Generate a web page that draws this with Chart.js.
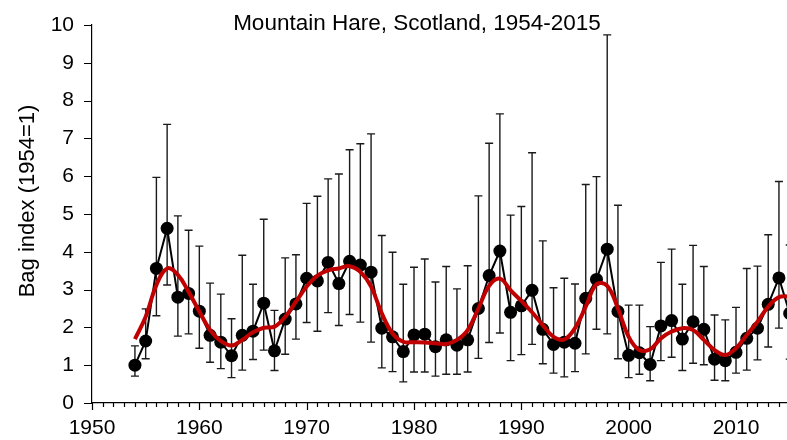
<!DOCTYPE html>
<html>
<head>
<meta charset="utf-8">
<script src="https://cdn.jsdelivr.net/npm/chart.js@4"></script>
<style>
  html, body { margin: 0; padding: 0; background: #fff; }
  #wrap { width: 787px; height: 440px; overflow: hidden; }
</style>
</head>
<body>
<div id="wrap"><canvas id="hareChart" width="787" height="440"></canvas></div>
<script>
// Mountain hare bag index, Scotland (1954 = 1)
const years = [
  1954, 1955, 1956, 1957, 1958, 1959, 1960, 1961, 1962, 1963,
  1964, 1965, 1966, 1967, 1968, 1969, 1970, 1971, 1972, 1973,
  1974, 1975, 1976, 1977, 1978, 1979, 1980, 1981, 1982, 1983,
  1984, 1985, 1986, 1987, 1988, 1989, 1990, 1991, 1992, 1993,
  1994, 1995, 1996, 1997, 1998, 1999, 2000, 2001, 2002, 2003,
  2004, 2005, 2006, 2007, 2008, 2009, 2010, 2011, 2012, 2013,
  2014, 2015
];
const bagIndex = [
  1.00, 1.64, 3.56, 4.62, 2.80, 2.90, 2.43, 1.79, 1.61, 1.25,
  1.79, 1.90, 2.64, 1.38, 2.22, 2.62, 3.30, 3.23, 3.72, 3.16,
  3.75, 3.65, 3.46, 1.98, 1.75, 1.36, 1.80, 1.82, 1.49, 1.67,
  1.53, 1.67, 2.50, 3.37, 4.02, 2.40, 2.57, 2.98, 1.95, 1.55,
  1.61, 1.58, 2.77, 3.27, 4.07, 2.42, 1.26, 1.33, 1.02, 2.04,
  2.18, 1.69, 2.15, 1.95, 1.16, 1.12, 1.34, 1.71, 1.98, 2.61,
  3.31, 2.37
];
const upperCI = [
  1.51, 2.49, 5.97, 7.37, 4.95, 4.57, 4.15, 3.17, 2.88, 2.23,
  3.91, 3.14, 4.86, 2.45, 3.84, 3.92, 5.28, 5.47, 5.93, 6.06,
  6.70, 6.86, 7.12, 4.43, 3.99, 3.14, 3.59, 3.81, 3.20, 3.61,
  3.02, 3.63, 5.48, 6.87, 7.65, 4.97, 5.20, 6.62, 4.29, 3.05,
  3.30, 3.15, 5.78, 5.99, 9.74, 5.23, 2.59, 2.59, 2.02, 3.72,
  4.07, 3.14, 4.17, 3.61, 2.33, 2.20, 2.53, 3.56, 3.62, 4.45,
  5.86, 4.18
];
const lowerCI = [
  0.71, 1.17, 2.31, 3.12, 1.77, 1.83, 1.45, 1.08, 0.91, 0.67,
  0.87, 1.15, 1.40, 0.86, 1.29, 1.69, 2.13, 1.90, 2.39, 2.05,
  2.34, 2.14, 1.61, 0.93, 0.83, 0.56, 0.82, 0.82, 0.71, 0.76,
  0.76, 0.82, 1.18, 1.60, 1.85, 1.12, 1.28, 1.55, 1.04, 0.79,
  0.69, 0.83, 1.30, 1.95, 1.83, 1.17, 0.67, 0.76, 0.59, 1.12,
  1.21, 0.86, 1.05, 1.01, 0.60, 0.59, 0.79, 0.87, 1.14, 1.48,
  1.98, 1.16
];
const smoothed = [
  1.69, 2.28, 3.12, 3.56, 3.39, 2.94, 2.42, 1.93, 1.64, 1.52,
  1.67, 1.87, 1.99, 2.02, 2.28, 2.68, 3.08, 3.37, 3.51, 3.56,
  3.62, 3.47, 3.08, 2.37, 1.84, 1.62, 1.61, 1.60, 1.58, 1.56,
  1.67, 1.93, 2.50, 3.10, 3.29, 2.98, 2.70, 2.40, 2.06, 1.75,
  1.68, 1.98, 2.55, 3.14, 3.10, 2.50, 1.75, 1.40, 1.42, 1.71,
  1.89, 1.98, 1.93, 1.67, 1.40, 1.27, 1.45, 1.80, 2.15, 2.55,
  2.80, 2.82
];
const yTicks = [0, 1, 2, 3, 4, 5, 6, 7, 8, 9, 10];
const xFirstYear = 1950;
const xLastTick = 2014;

const FONT = '"Liberation Sans", Arial, sans-serif';

// error bars drawn behind the points
const errorBars = {
  id: 'errorBars',
  beforeDatasetsDraw(chart) {
    const { ctx, scales: { x, y } } = chart;
    ctx.save();
    ctx.strokeStyle = '#1a1a1a';
    ctx.lineWidth = 1.4;
    years.forEach((yr, i) => {
      const px = x.getPixelForValue(yr);
      const top = y.getPixelForValue(upperCI[i]);
      const bot = y.getPixelForValue(lowerCI[i]);
      ctx.beginPath();
      ctx.moveTo(px, top); ctx.lineTo(px, bot);
      ctx.moveTo(px - 4, top); ctx.lineTo(px + 4, top);
      ctx.moveTo(px - 4, bot); ctx.lineTo(px + 4, bot);
      ctx.stroke();
    });
    ctx.restore();
  }
};

// tick marks and the two titles
const axisDecor = {
  id: 'axisDecor',
  afterDraw(chart) {
    const { ctx, chartArea, scales: { x, y } } = chart;
    ctx.save();
    ctx.strokeStyle = '#000';
    ctx.lineWidth = 1.2;
    ctx.beginPath();
    for (let yr = xFirstYear; yr <= xLastTick; yr++) {
      const px = Math.round(x.getPixelForValue(yr)) + 0.5;
      const len = yr % 10 === 0 ? 7 : 4;
      ctx.moveTo(px, chartArea.bottom);
      ctx.lineTo(px, chartArea.bottom + len);
    }
    yTicks.forEach(v => {
      const py = Math.round(y.getPixelForValue(v)) + 0.5;
      ctx.moveTo(chartArea.left, py);
      ctx.lineTo(chartArea.left - 8, py);
    });
    ctx.stroke();

    ctx.fillStyle = '#000';
    ctx.textAlign = 'center';
    ctx.textBaseline = 'middle';
    ctx.font = '22.5px ' + FONT;
    ctx.fillText('Mountain Hare, Scotland, 1954-2015', 417, 24);

    ctx.font = '22px ' + FONT;
    ctx.translate(28, 201);
    ctx.rotate(-Math.PI / 2);
    ctx.fillText('Bag index (1954=1)', 0, 0);
    ctx.restore();
  }
};

new Chart(document.getElementById('hareChart'), {
  type: 'line',
  data: {
    datasets: [
      {
        label: 'Trend',
        data: years.map((yr, i) => ({ x: yr, y: smoothed[i] })),
        borderColor: '#c00000',
        borderWidth: 4,
        pointRadius: 0,
        tension: 0.4,
        clip: false,
        order: 0
      },
      {
        label: 'Bag index',
        data: years.map((yr, i) => ({ x: yr, y: bagIndex[i] })),
        borderColor: '#000',
        borderWidth: 2,
        backgroundColor: '#000',
        pointBackgroundColor: '#000',
        pointBorderWidth: 0,
        pointRadius: 6.5,
        tension: 0,
        clip: false,
        order: 1
      }
    ]
  },
  options: {
    responsive: false,
    animation: false,
    events: [],
    layout: { autoPadding: false, padding: { top: 25, right: 0, bottom: 0, left: 0 } },
    plugins: {
      legend: { display: false },
      tooltip: { enabled: false },
      title: { display: false }
    },
    scales: {
      x: {
        type: 'linear',
        min: xFirstYear,
        max: 2014.75,
        grid: { display: false, drawTicks: false },
        border: { display: true, color: '#000', width: 1.2 },
        afterBuildTicks(scale) {
          const t = [];
          for (let yr = xFirstYear; yr <= xLastTick; yr++) t.push({ value: yr });
          scale.ticks = t;
        },
        afterFit(scale) {
          scale.height = 37;
          scale.paddingLeft = 0;
          scale.paddingRight = 0;
        },
        ticks: {
          autoSkip: false,
          maxRotation: 0,
          padding: 13,
          color: '#000',
          font: { family: FONT, size: 21 },
          callback: v => (v % 10 === 0 ? String(v) : '')
        }
      },
      y: {
        min: 0,
        max: 10,
        grid: { display: false, drawTicks: false },
        border: { display: true, color: '#000', width: 1.2 },
        afterBuildTicks(scale) {
          scale.ticks = yTicks.map(v => ({ value: v }));
        },
        afterFit(scale) {
          scale.width = 92;
          scale.paddingTop = 0;
          scale.paddingBottom = 0;
        },
        ticks: {
          padding: 18,
          color: '#000',
          font: { family: FONT, size: 21 }
        }
      }
    }
  },
  plugins: [errorBars, axisDecor]
});
</script>
</body>
</html>
